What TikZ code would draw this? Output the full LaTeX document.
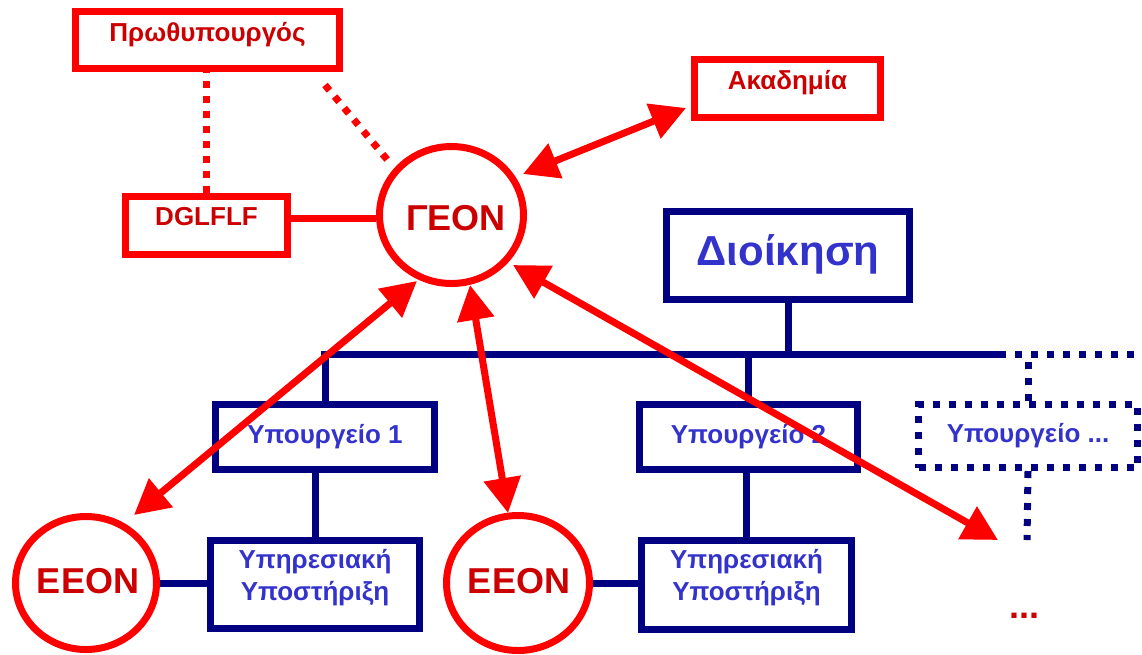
\documentclass[tikz,border=0pt]{standalone}
\usepackage{fontspec}
\setmainfont{Liberation Sans}
\usetikzlibrary{arrows.meta,shapes.geometric,calc}
\definecolor{rd}{HTML}{FF0000}
\definecolor{rdtext}{HTML}{CC0000}
\definecolor{nv}{HTML}{000080}
\definecolor{bltext}{HTML}{3333CC}
\begin{document}
\begin{tikzpicture}[x=1pt,y=-1pt,
  redbox/.style={draw=rd,line width=7pt,rectangle,inner sep=0pt,text=rdtext,
    font=\bfseries\fontsize{26}{30}\selectfont,text height=18.6pt},
  bluebox/.style={draw=nv,line width=7pt,rectangle,inner sep=0pt,text=bltext,
    font=\bfseries\fontsize{26}{32}\selectfont,align=center},
  dotbox/.style={bluebox,dash pattern=on 7pt off 9pt},
  redcirc/.style={draw=rd,line width=7pt,ellipse,inner sep=0pt,text=rdtext,
    font=\bfseries\fontsize{36}{40}\selectfont},
  redline/.style={draw=rd,line width=7pt},
  reddot/.style={draw=rd,line width=7pt,dash pattern=on 7pt off 8pt},
  navyline/.style={draw=nv,line width=7pt},
  navydot/.style={draw=nv,line width=7pt,dash pattern=on 7pt off 9pt},
  dblarrow/.style={draw=rd,line width=7pt,
    {Triangle[length=35pt,width=36pt]}-{Triangle[length=35pt,width=36pt]}},
  dotstext/.style={text=rdtext,font=\bfseries\fontsize{36}{40}\selectfont,
    inner sep=0pt,text height=0pt,text depth=0pt},
]
\useasboundingbox (0,0) rectangle (1142,654);

% red boxes
\node[redbox,minimum width=264pt,minimum height=57pt,text depth=15pt] (pm) at (207.5,40) {Πρωθυπουργός};
\node[redbox,minimum width=162pt,minimum height=58pt,text depth=18pt] (dgl) at (206.5,225.5) {DGLFLF};
\node[redbox,minimum width=186pt,minimum height=58pt,text depth=16pt] (akad) at (787.5,88.5) {Ακαδημία};

% red circles
\node[redcirc,minimum width=144pt,minimum height=137pt,text height=31.8pt,text depth=0pt] (geon) at (451.5,215) {\makebox[0pt]{\hspace*{9pt}ΓΕΟΝ}};
\node[redcirc,minimum width=141pt,minimum height=133pt,text height=25.8pt,text depth=4pt] (eeon1) at (86,583) {\makebox[0pt]{\hspace*{4pt}ΕΕΟΝ}};
\node[redcirc,minimum width=143pt,minimum height=135pt,text height=25.8pt,text depth=4pt] (eeon2) at (518,583) {\makebox[0pt]{\hspace*{2pt}ΕΕΟΝ}};

% blue boxes
\node[bluebox,minimum width=243pt,minimum height=88pt,font=\bfseries\fontsize{42}{48}\selectfont,text height=30pt,text depth=11pt] (dioik) at (788,255.5) {Διοίκηση};
\node[bluebox,minimum width=219pt,minimum height=65pt,text height=18.6pt,text depth=6pt] (min1) at (325,437) {Υπουργείο 1};
\node[bluebox,minimum width=218pt,minimum height=65pt,text height=18.6pt,text depth=6pt] (min2) at (748.5,437) {Υπουργείο 2};
\node[dotbox,minimum width=219pt,minimum height=63pt,text height=18.6pt,text depth=6pt] (min3) at (1028,436) {Υπουργείο ...};
\node[bluebox,minimum width=209pt,minimum height=88pt,text height=31pt,text depth=0pt] (sup1) at (315,584.5) {Υπηρεσιακή\\Υποστήριξη};
\node[bluebox,minimum width=210pt,minimum height=89pt,text height=31pt,text depth=0pt] (sup2) at (746.5,585) {Υπηρεσιακή\\Υποστήριξη};

\node[dotstext,anchor=base] (dots) at (1024,618.5) {...};

% coordinates
\coordinate (busL) at (321,354);
\coordinate (busR) at (999,354);
\coordinate (busE) at (1142,354);
\coordinate (min3end) at (1027,540);
\coordinate (pmdot) at (325,85);
\coordinate (geondot) at (390,163);
\coordinate (gA) at (523,174);
\coordinate (aA) at (686,108);
\coordinate (gB) at (417,281);
\coordinate (eB) at (134,515);
\coordinate (gC) at (470,285);
\coordinate (eC) at (508,513);
\coordinate (gD) at (513,265);
\coordinate (dD) at (998,540);

% red connectors
\draw[reddot] (dgl.north) -- (dgl.north |- pm.south);
\draw[reddot] (pmdot) -- (geondot);
\draw[redline] ([yshift=-3.5pt]geon.west) -- ([yshift=-3.5pt]geon.west -| dgl.east);

% navy tree
\draw[navyline] (dioik.south) -- (dioik.south |- busL);
\draw[navyline] (busL) -- (busR);
\draw[navydot] (busR) -- (busE);
\draw[navyline] (min1.north) -- (min1.north |- busL);
\draw[navyline] (min2.north) -- (min2.north |- busL);
\draw[navydot] (min3.north) -- (min3.north |- busL);
\draw[navydot] (min3.south) -- (min3end);
\draw[navyline] (sup1.north) -- (sup1.north |- min1.south);
\draw[navyline] (sup2.north) -- (sup2.north |- min2.south);
\draw[navyline] (eeon1.east) -- (eeon1.east -| sup1.west);
\draw[navyline] (eeon2.east) -- (eeon2.east -| sup2.west);

% red double arrows
\draw[dblarrow] (gA) -- (aA);
\draw[dblarrow] (gB) -- (eB);
\draw[dblarrow] (gC) -- (eC);
\draw[dblarrow] (gD) -- (dD);
\end{tikzpicture}
\end{document}
